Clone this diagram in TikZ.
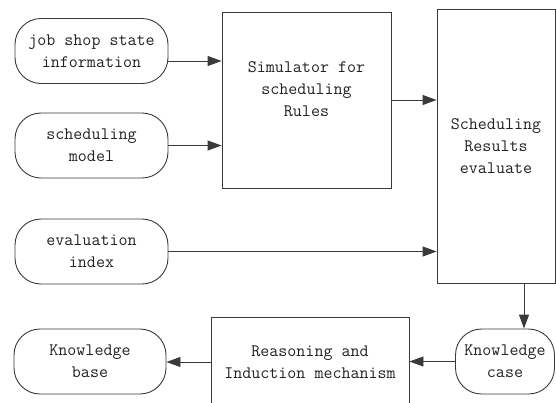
\documentclass[tikz,border=0pt]{standalone}
\usepackage{fontspec}
\usetikzlibrary{arrows.meta}
\definecolor{ln}{HTML}{3A3A3A}
\definecolor{tx}{HTML}{222222}
\tikzset{
  base/.style={draw=ln, line width=0.9pt, text=tx, align=center, inner sep=2pt,
    font=\ttfamily\fontsize{17.5}{22}\selectfont},
  pill/.style={base, rounded corners=26pt},
  rect/.style={base},
  conn/.style={draw=ln, line width=0.9pt, -{Triangle[length=14pt,width=10pt]}},
}
\begin{document}
\begin{tikzpicture}[x=1pt,y=-1pt]
\useasboundingbox (0,0) rectangle (556,402);
\fill[white] (0,0) rectangle (556,402);
\node[pill, minimum width=153pt, minimum height=65pt] (job) at (91.5,51) {job shop state\\information};
\node[pill, minimum width=153pt, minimum height=65pt] (model) at (91.5,145.5) {scheduling\\model};
\node[pill, minimum width=153pt, minimum height=65pt] (eval) at (91.5,251.5) {evaluation\\index};
\node[pill, minimum width=152pt, minimum height=65pt] (kbase) at (90,361.5) {Knowledge\\base};
\node[rect, minimum width=169pt, minimum height=176pt] (sim) at (306.5,100) {Simulator for\\scheduling\\Rules\\\mbox{}};
\node[rect, minimum width=118pt, minimum height=274pt] (res) at (496,146) {Scheduling\\Results\\evaluate};
\node[rect, minimum width=198pt, minimum height=90pt] (reas) at (310,362) {Reasoning and\\Induction mechanism};
\node[pill, minimum width=99pt, minimum height=65pt, inner sep=1pt] (kcase) at (505,361.5) {Knowledge\\case};
\draw[conn] ([yshift=-10pt]job.east) -- ([yshift=-10pt]job.east -| sim.west);
\draw[conn] (model.east) -- (model.east -| sim.west);
\draw[conn] (sim.east) -- (sim.east -| res.west);
\draw[conn] (eval.east) -- (eval.east -| res.west);
\draw[conn] ([xshift=28pt]res.south) -- ([xshift=28pt]res.south |- kcase.north);
\draw[conn] (kcase.west) -- (kcase.west -| reas.east);
\draw[conn] (reas.west) -- (reas.west -| kbase.east);
\end{tikzpicture}
\end{document}
